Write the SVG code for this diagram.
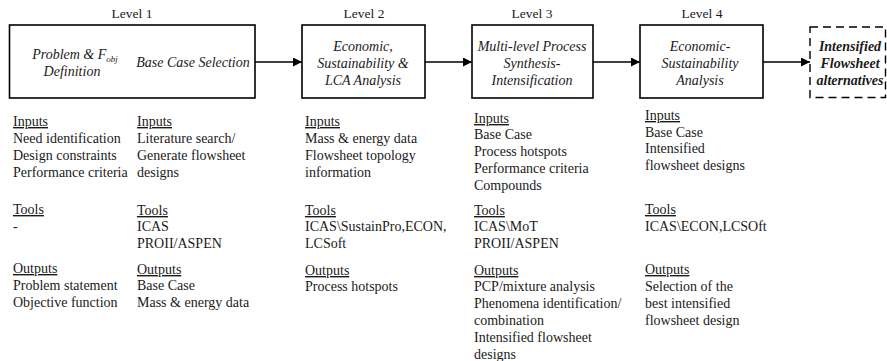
<svg xmlns="http://www.w3.org/2000/svg" width="887" height="361" viewBox="0 0 887 361" font-family="'Liberation Serif', 'Times New Roman', Times, 'DejaVu Serif', serif">
<defs>
<marker id="ah" viewBox="0 0 10 10" refX="10" refY="5" markerWidth="10" markerHeight="9" markerUnits="userSpaceOnUse" orient="auto">
<path d="M0,0 L10,5 L0,10 z" fill="#000"/>
</marker>
</defs>
<style>
text{font-family:'Liberation Serif','Times New Roman',Times,'DejaVu Serif',serif;font-size:14px;fill:#1a1a1a}
.lv{font-size:13.5px;text-anchor:middle}
.it{font-style:italic;text-anchor:middle}
.bi{font-style:italic;font-weight:bold;text-anchor:middle}
.u{text-decoration:underline}
.box{fill:#fff;stroke:#000;stroke-width:1.6}
.dbox{fill:#fff;stroke:#000;stroke-width:1.4;stroke-dasharray:8,5}
.con{stroke:#000;stroke-width:1.5;fill:none;marker-end:url(#ah)}
</style>
<g id="connectors">
<line class="con" x1="255" y1="62" x2="302" y2="62"/>
<line class="con" x1="425" y1="62" x2="472" y2="62"/>
<line class="con" x1="593" y1="62" x2="640" y2="62"/>
<line class="con" x1="763" y1="62" x2="810" y2="62"/>
</g>
<g id="level1">
<text class="lv" x="132" y="18">Level 1</text>
<rect class="box" x="9.5" y="25" width="245.5" height="73"/>
<text class="it" x="75" y="59">Problem &amp; F<tspan font-size="9" dy="3">obj</tspan></text>
<text class="it" x="72" y="76">Definition</text>
<text class="it" x="193" y="67">Base Case Selection</text>
</g>
<g id="level2">
<text class="lv" x="364" y="18">Level 2</text>
<rect class="box" x="302" y="25" width="123" height="73"/>
<text class="it" x="363" y="51">Economic,</text>
<text class="it" x="363" y="68">Sustainability &amp;</text>
<text class="it" x="363" y="85">LCA Analysis</text>
</g>
<g id="level3">
<text class="lv" x="532" y="18">Level 3</text>
<rect class="box" x="472" y="25" width="121" height="73"/>
<text class="it" x="532" y="51">Multi-level Process</text>
<text class="it" x="532" y="68">Synthesis-</text>
<text class="it" x="532" y="85">Intensification</text>
</g>
<g id="level4">
<text class="lv" x="702" y="18">Level 4</text>
<rect class="box" x="640" y="25" width="123" height="73"/>
<text class="it" x="700" y="51">Economic-</text>
<text class="it" x="700" y="68">Sustainability</text>
<text class="it" x="700" y="85">Analysis</text>
</g>
<g id="result">
<rect class="dbox" x="810" y="27" width="75.5" height="70.5"/>
<text class="bi" x="850" y="51">Intensified</text>
<text class="bi" x="850" y="68">Flowsheet</text>
<text class="bi" x="850" y="85">alternatives</text>
</g>
<g id="col1">
<text class="u" x="13" y="126">Inputs</text>
<text x="13" y="143">Need identification</text>
<text x="13" y="160">Design constraints</text>
<text x="13" y="177">Performance criteria</text>
<text class="u" x="13" y="214">Tools</text>
<text x="13" y="231">-</text>
<text class="u" x="13" y="273">Outputs</text>
<text x="13" y="290">Problem statement</text>
<text x="13" y="307">Objective function</text>
</g>
<g id="col2">
<text class="u" x="137" y="126">Inputs</text>
<text x="137" y="143">Literature search/</text>
<text x="137" y="160">Generate flowsheet</text>
<text x="137" y="177">designs</text>
<text class="u" x="137" y="215">Tools</text>
<text x="137" y="231">ICAS</text>
<text x="137" y="248">PROII/ASPEN</text>
<text class="u" x="137" y="274">Outputs</text>
<text x="137" y="290">Base Case</text>
<text x="137" y="307">Mass &amp; energy data</text>
</g>
<g id="col3">
<text class="u" x="305" y="126">Inputs</text>
<text x="305" y="143">Mass &amp; energy data</text>
<text x="305" y="160">Flowsheet topology</text>
<text x="305" y="177">information</text>
<text class="u" x="305" y="215">Tools</text>
<text x="305" y="231">ICAS\SustainPro,ECON,</text>
<text x="305" y="248">LCSoft</text>
<text class="u" x="305" y="275">Outputs</text>
<text x="305" y="291">Process hotspots</text>
</g>
<g id="col4">
<text class="u" x="474" y="123">Inputs</text>
<text x="474" y="139">Base Case</text>
<text x="474" y="156">Process hotspots</text>
<text x="474" y="173">Performance criteria</text>
<text x="474" y="190">Compounds</text>
<text class="u" x="474" y="215">Tools</text>
<text x="474" y="231">ICAS\MoT</text>
<text x="474" y="248">PROII/ASPEN</text>
<text class="u" x="474" y="275">Outputs</text>
<text x="474" y="291">PCP/mixture analysis</text>
<text x="474" y="308">Phenomena identification/</text>
<text x="474" y="325">combination</text>
<text x="474" y="342">Intensified flowsheet</text>
<text x="474" y="359">designs</text>
</g>
<g id="col5">
<text class="u" x="645" y="120">Inputs</text>
<text x="645" y="137">Base Case</text>
<text x="645" y="153">Intensified</text>
<text x="645" y="170">flowsheet designs</text>
<text class="u" x="645" y="214">Tools</text>
<text x="645" y="231">ICAS\ECON,LCSOft</text>
<text class="u" x="645" y="274">Outputs</text>
<text x="645" y="291">Selection of the</text>
<text x="645" y="308">best intensified</text>
<text x="645" y="325">flowsheet design</text>
</g>
</svg>
